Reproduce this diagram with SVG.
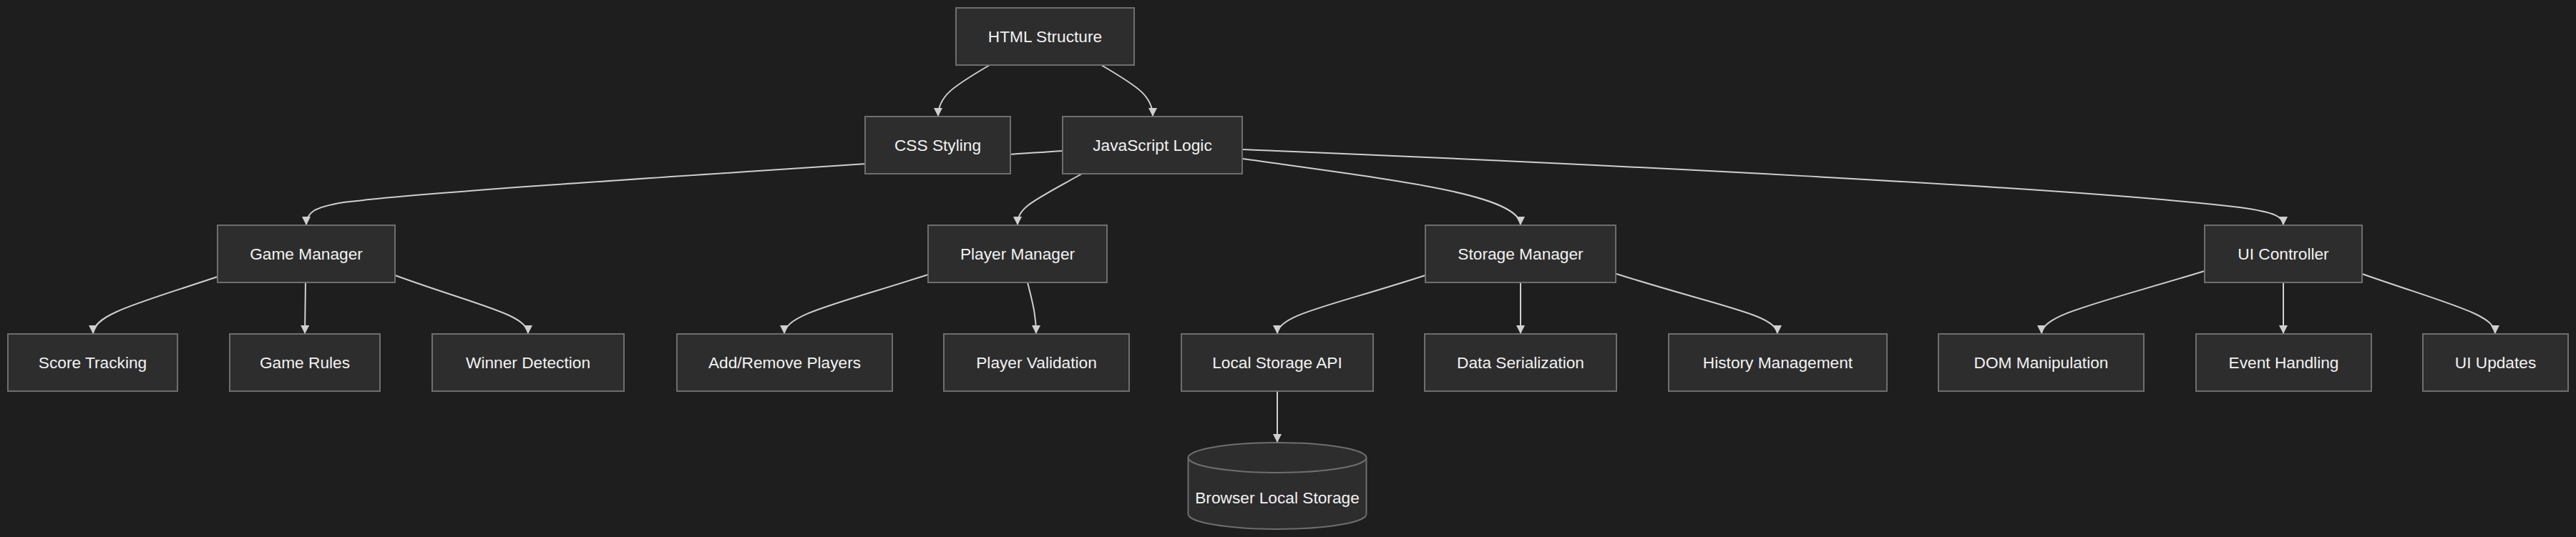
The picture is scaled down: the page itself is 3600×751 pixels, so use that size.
<svg xmlns="http://www.w3.org/2000/svg" width="3600" height="751" viewBox="0 0 3600 751">
<style>
.bg{fill:#1e1e1e}
.node rect,.node path,.node ellipse{fill:#2d2d2d;stroke:#6e6e6e;stroke-width:2}
.node text{fill:#f2f2f2;font-family:"Liberation Sans",Arial,sans-serif;font-size:22.7px;text-anchor:middle;dominant-baseline:central}
.edges path{fill:none;stroke:#cfcfcf;stroke-width:2;marker-end:url(#arrow)}
</style>
<defs>
<marker id="arrow" viewBox="0 0 12 12" refX="12" refY="6" markerWidth="12" markerHeight="12" markerUnits="userSpaceOnUse" orient="auto">
<path d="M0,0 L12,6 L0,12 z" fill="#cfcfcf"/>
</marker>
</defs>
<rect class="bg" x="0" y="0" width="3600" height="751"/>
<g class="edges">
<path d="M1383,91 C1330,122 1311,135 1311,163"/>
<path d="M1539,91 C1592,122 1611,135 1611,163"/>
<path d="M1485,211 C1000,243 600,268 480,283 C437,290 428,298 428,315"/>
<path d="M1512,243 C1440,283 1422,290 1422,315"/>
<path d="M1737,222 C1950,252 2125,272 2125,315"/>
<path d="M1737,209 C2200,228 2900,262 3130,290 C3180,297 3191,303 3191,315"/>
<path d="M304,387 C190,425 130,440 130,467"/>
<path d="M427,395 L426,467"/>
<path d="M552,385 C670,428 738,440 738,467"/>
<path d="M1297,384 C1170,425 1096,440 1096,467"/>
<path d="M1436,395 C1445,430 1448,445 1448,467"/>
<path d="M1992,385 C1860,428 1785,440 1785,467"/>
<path d="M2125,395 L2125,467"/>
<path d="M2259,383 C2400,428 2484,440 2484,467"/>
<path d="M3081,379 C2930,425 2853,440 2853,467"/>
<path d="M3191,395 L3191,467"/>
<path d="M3301,383 C3430,428 3487,440 3487,467"/>
<path d="M1785,547 L1785,619"/>
</g>
<g id="html" class="node"><rect x="1336" y="11" width="249" height="80"/><text x="1460.5" y="51">HTML Structure</text></g>
<g id="css" class="node"><rect x="1209" y="163" width="203" height="80"/><text x="1310.5" y="203">CSS Styling</text></g>
<g id="js" class="node"><rect x="1485" y="163" width="251" height="80"/><text x="1610.5" y="203">JavaScript Logic</text></g>
<g id="gm" class="node"><rect x="304" y="315" width="248" height="80"/><text x="428" y="355">Game Manager</text></g>
<g id="pm" class="node"><rect x="1297" y="315" width="250" height="80"/><text x="1422" y="355">Player Manager</text></g>
<g id="sm" class="node"><rect x="1992" y="315" width="266" height="80"/><text x="2125" y="355">Storage Manager</text></g>
<g id="uic" class="node"><rect x="3081" y="315" width="220" height="80"/><text x="3191" y="355">UI Controller</text></g>
<g id="score" class="node"><rect x="11" y="467" width="237" height="80"/><text x="129.5" y="507">Score Tracking</text></g>
<g id="rules" class="node"><rect x="321" y="467" width="210" height="80"/><text x="426" y="507">Game Rules</text></g>
<g id="winner" class="node"><rect x="604" y="467" width="268" height="80"/><text x="738" y="507">Winner Detection</text></g>
<g id="addrem" class="node"><rect x="946" y="467" width="301" height="80"/><text x="1096.5" y="507">Add/Remove Players</text></g>
<g id="pval" class="node"><rect x="1319" y="467" width="259" height="80"/><text x="1448.5" y="507">Player Validation</text></g>
<g id="lsa" class="node"><rect x="1651" y="467" width="268" height="80"/><text x="1785" y="507">Local Storage API</text></g>
<g id="ds" class="node"><rect x="1991" y="467" width="268" height="80"/><text x="2125" y="507">Data Serialization</text></g>
<g id="hm" class="node"><rect x="2332" y="467" width="305" height="80"/><text x="2484.5" y="507">History Management</text></g>
<g id="dom" class="node"><rect x="2709" y="467" width="287" height="80"/><text x="2852.5" y="507">DOM Manipulation</text></g>
<g id="event" class="node"><rect x="3069" y="467" width="245" height="80"/><text x="3191.5" y="507">Event Handling</text></g>
<g id="uiu" class="node"><rect x="3386" y="467" width="203" height="80"/><text x="3487.5" y="507">UI Updates</text></g>
<g id="bls" class="node">
<path d="M1660.5,640 A124.5,21 0 0 1 1909.5,640 L1909.5,719 A124.5,21 0 0 1 1660.5,719 Z"/>
<path d="M1660.5,640 A124.5,21 0 0 0 1909.5,640"/>
<text x="1785" y="696">Browser Local Storage</text>
</g>
</svg>
